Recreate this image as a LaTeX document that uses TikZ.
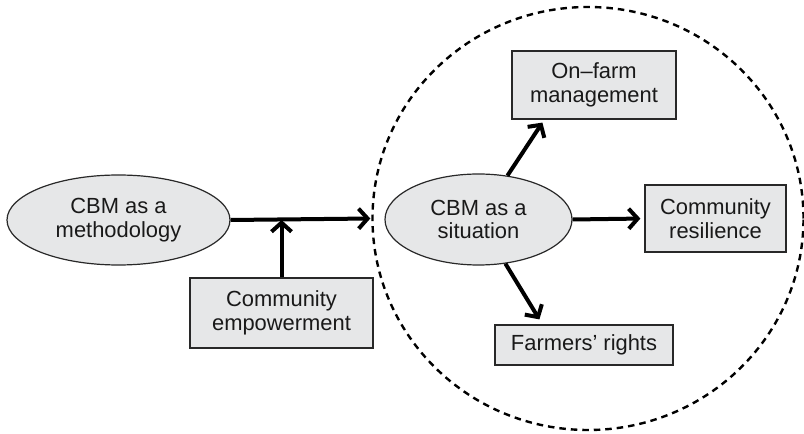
\documentclass[tikz,border=0pt]{standalone}
\usepackage{fontspec}
\setmainfont{Liberation Sans}
\usetikzlibrary{shapes.geometric,arrows.meta,calc}
\definecolor{boxfill}{RGB}{230,231,232}
\definecolor{edge}{RGB}{40,40,40}
\definecolor{ink}{RGB}{25,25,25}
\begin{document}
\begin{tikzpicture}[x=1bp,y=-1bp,
  every node/.style={font=\fontsize{22}{24}\selectfont, text=ink, align=center, inner sep=0pt},
  rbox/.style={draw=edge, line width=1.2bp, fill=boxfill, rectangle},
  oval/.style={draw=edge, line width=1.2bp, fill=boxfill, ellipse},
  conn/.style={line width=4bp, black, -{Straight Barb[length=9bp,width=20bp]}}
]
\useasboundingbox (0,0) rectangle (804,434);
\node[draw=black, line width=2.4bp, dash pattern=on 6.5bp off 5bp, ellipse, minimum width=431bp, minimum height=423bp] (zone) at (588,218.5) {};
\node[oval, minimum width=223bp, minimum height=90bp] (meth) at (118.5,220) {CBM as a\\methodology};
\node[rbox, minimum width=183bp, minimum height=70bp] (emp) at (281.5,313) {Community\\empowerment};
\node[oval, minimum width=187bp, minimum height=91bp] (sit) at (478.5,219.5) {CBM as a\\situation};
\node[rbox, minimum width=164bp, minimum height=68bp] (onfarm) at (594,85) {On–farm\\management};
\node[rbox, minimum width=141bp, minimum height=67bp] (resil) at (715.5,218.5) {Community\\resilience};
\node[rbox, minimum width=178bp, minimum height=40bp] (farm) at (584,345) {Farmers’ rights};
\coordinate (join) at (emp.north |- meth.east);
\draw[conn, shorten >=1bp] (meth.east) -- (zone.west);
\draw[conn] (emp.north) -- (join);
\draw[conn] (sit) -- ($(onfarm.south west)+(31,3)$);
\draw[conn, shorten >=4bp] (sit.east) -- (resil.west);
\draw[conn] (sit) -- ($(farm.north west)+(45,-5)$);
\end{tikzpicture}
\end{document}
